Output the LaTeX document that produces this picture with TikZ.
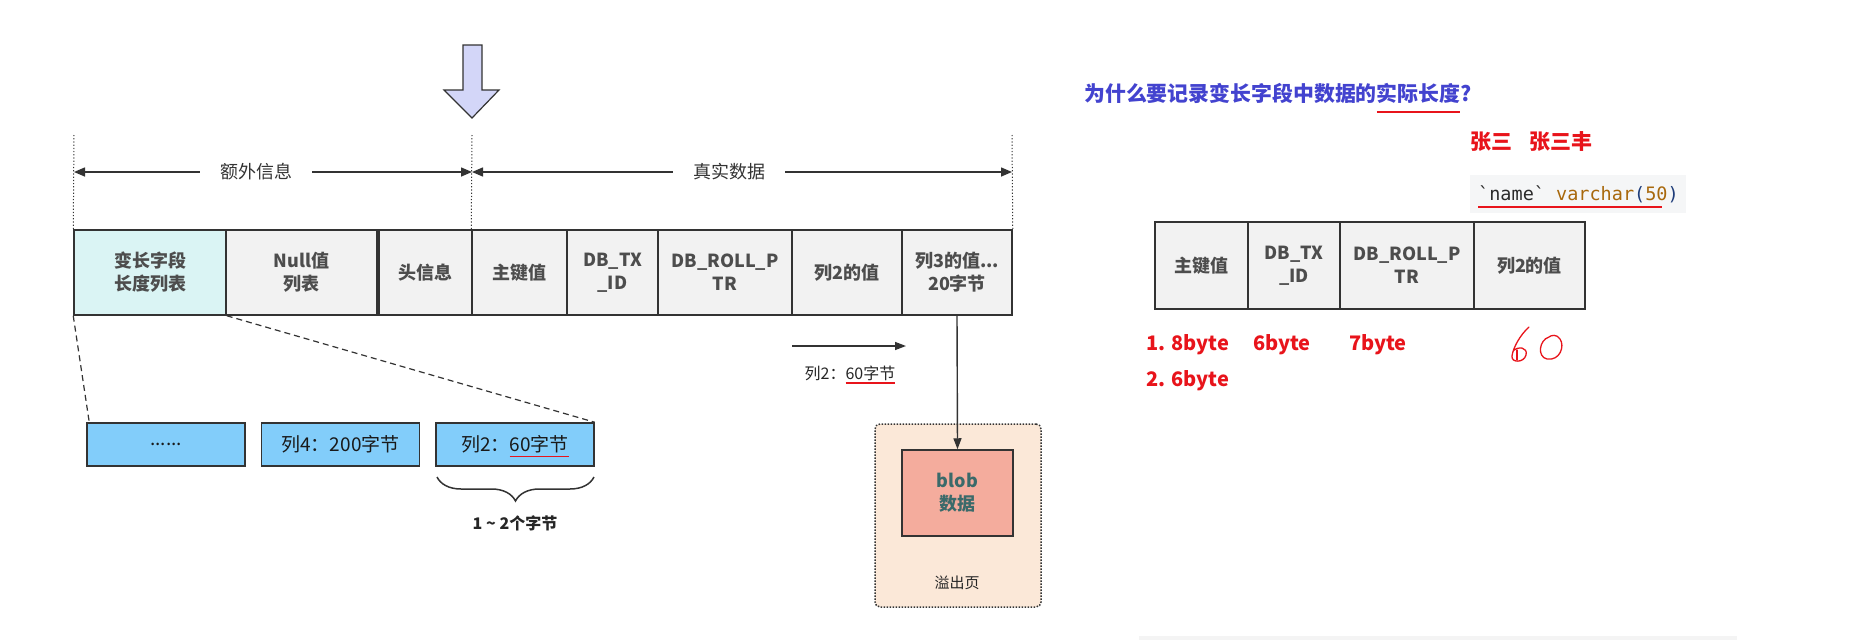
\documentclass[tikz,border=0pt]{standalone}
\usepackage{fontspec}
\setmainfont{Noto Sans CJK SC}
\setmonofont{DejaVu Sans Mono}
\usetikzlibrary{arrows.meta,decorations.pathreplacing}
\definecolor{cellline}{HTML}{333333}
\definecolor{cellfill}{HTML}{F2F2F2}
\definecolor{celltext}{HTML}{4D4D4D}
\definecolor{cyanfill}{HTML}{DAF4F4}
\definecolor{boxblue}{HTML}{82CDFA}
\definecolor{arrowfill}{HTML}{D3D6F8}
\definecolor{ovffill}{HTML}{FBE8D8}
\definecolor{blobfill}{HTML}{F4AC9D}
\definecolor{blobtext}{HTML}{3A6A6A}
\definecolor{ulred}{HTML}{E8141B}
\definecolor{titleblue}{HTML}{4343CF}
\definecolor{codebg}{HTML}{F5F6F7}
\definecolor{codebrown}{HTML}{A8680C}
\definecolor{codeblue}{HTML}{1F3D7A}
\definecolor{codedark}{HTML}{2B2B2B}
\definecolor{barfill}{HTML}{F4F4F4}
\newsavebox\myulbox
\newlength\myulextra
\newcommand\redulx[3]{\sbox\myulbox{#3}\setlength\myulextra{\wd\myulbox}\addtolength\myulextra{#2}\rlap{\smash{\textcolor{ulred}{\rule[-#1]{\myulextra}{1.8pt}}}}\usebox\myulbox}
\newcommand\redulat[2]{\redulx{#1}{0pt}{#2}}
\newcommand\cellfont{\fontsize{18}{23}\selectfont\bfseries}
\begin{document}
\begin{tikzpicture}[x=1pt,y=-1pt,
  cell/.style={draw=cellline,line width=1.5pt,fill=cellfill,text=celltext,font=\cellfont,align=center,inner sep=0pt,minimum height=85pt},
  rcell/.style={cell,line width=2.2pt,minimum height=87pt},
  lbox/.style={draw=cellline,line width=1.5pt,fill=boxblue,text=black!90,font=\fontsize{19}{22}\selectfont,inner sep=0pt,minimum width=158pt,minimum height=43pt},
  dimline/.style={draw=cellline,line width=1.5pt,{Triangle[length=11pt,width=9pt]}-{Triangle[length=11pt,width=9pt]}},
  dimlabel/.style={fill=white,text=black!80,font=\fontsize{18}{22}\selectfont,inner xsep=20pt,inner ysep=2pt},
  guide/.style={draw=cellline,line width=1pt,dash pattern=on 1.2pt off 2pt},
  zoomline/.style={draw=cellline,line width=1.2pt,dash pattern=on 6pt off 4pt},
  conn/.style={draw=cellline,line width=1.4pt,-{Triangle[length=11pt,width=8pt]}},
  redtxt/.style={text=ulred,font=\fontsize{20}{24}\selectfont\bfseries,anchor=west,inner sep=0pt},
  hand/.style={draw=ulred,line width=1.3pt,line cap=round,line join=round}]
\useasboundingbox (0,0) rectangle (1864,640);
\fill[white] (0,0) rectangle (1864,640);
\fill[barfill] (1139,636) rectangle (1737,640);

% big down arrow
\draw[cellline,line width=1.2pt,fill=arrowfill] (463,45) -- (482,45) -- (482,90) -- (499,90) -- (472,118) -- (444,90) -- (463,90) -- cycle;

% main row
\node[cell,fill=cyanfill,minimum width=152pt] (c1) at (150,272.5) {变长字段\\长度列表};
\node[cell,minimum width=151pt] (c2) at (301.5,272.5) {Null值\\列表};
\node[cell,minimum width=93pt] (c3) at (425.5,272.5) {头信息};
\node[cell,minimum width=95pt] (c4) at (519.5,272.5) {主键值};
\node[cell,minimum width=91pt] (c5) at (612.5,272.5) {DB\_TX\\\_ID};
\node[cell,minimum width=134pt] (c6) at (725,272.5) {DB\_ROLL\_P\\TR};
\node[cell,minimum width=110pt] (c7) at (847,272.5) {列2的值};
\node[cell,minimum width=110pt] (c8) at (957,272.5) {列3的值...\\20字节};

% guides and dimension arrows
\coordinate (g1) at (74,135);
\coordinate (g2) at (472,135);
\coordinate (g3) at (1012,135);
\draw[guide] (g1) -- (c1.north west);
\draw[guide] (g2) -- (c4.north west);
\draw[guide] (g3) -- (c8.north east);
\coordinate (d1) at (74,172);
\coordinate (d2) at (472,172);
\coordinate (d3) at (1012,172);
\draw[dimline] (d1) -- (d2);
\draw[dimline] (d2) -- (d3);
\node[dimlabel] (lab1) at (256,172) {额外信息};
\node[dimlabel] (lab2) at (729,172) {真实数据};

% lower boxes
\node[lbox] (b1) at (166,444.5) {......};
\node[lbox] (b2) at (340.5,444.5) {列4：200字节};
\node[lbox] (b3) at (515,444.5) {列2：\redulat{0.3em}{60字节}};
\draw[zoomline] (c1.south west) -- ([xshift=3pt]b1.north west);
\draw[zoomline] (c1.south east) -- (b3.north east);
\coordinate (brR) at (594,477);
\coordinate (brL) at (437,477);
\draw[cellline,line width=1.5pt,decorate,decoration={brace,amplitude=24pt,aspect=0.5}] (brR) -- (brL);
\node[text=black!85,font=\fontsize{16}{19}\selectfont\bfseries] (brlab) at (515,523) {1 \textasciitilde{} 2个字节};

% overflow
\coordinate (a1) at (792,346);
\coordinate (a2) at (906,346);
\draw[conn] (a1) -- (a2);
\node[text=black!85,font=\fontsize{16}{19}\selectfont] (alab) at (850,373) {列2：\redulat{0.3em}{60字节}};
\node[draw=cellline,line width=1.5pt,dash pattern=on 1.5pt off 1.5pt,rounded corners=5pt,fill=ovffill,minimum width=166pt,minimum height=183pt,inner sep=0pt] (ovf) at (958,515.5) {};
\node[text=black!85,font=\fontsize{15}{18}\selectfont] (ovflab) at (957,583) {溢出页};
\node[draw=cellline,line width=1.5pt,fill=blobfill,text=blobtext,font=\cellfont,align=center,inner sep=0pt,minimum width=111pt,minimum height=86pt] (blob) at (957.5,493) {blob\\数据};
\draw[conn] (c8.south) -- (blob.north);

% right side
\node[text=titleblue,font=\fontsize{20.9}{24}\selectfont\bfseries,anchor=west,inner sep=0pt] (title) at (1084,93) {为什么要记录变长字段中数据的\redulat{0.58em}{实际长度}?};
\node[text=ulred,font=\fontsize{21}{24}\selectfont\bfseries,anchor=west,inner sep=0pt] (names) at (1470,142) {张三\hspace{17pt}张三丰};
\node[fill=codebg,minimum width=216pt,minimum height=38pt,inner sep=0pt] (codebg) at (1578,194) {};
\node[anchor=west,inner sep=0pt,font=\fontsize{18.5}{22}\ttfamily] (code) at (1478,194) {\redulx{0.4em}{17pt}{\textcolor{codedark}{\textasciigrave name\textasciigrave}\ \textcolor{codebrown}{varchar}\textcolor{codeblue}{(}}\textcolor{codebrown}{50}\textcolor{codeblue}{)}};

\node[rcell,minimum width=93pt] (r1) at (1201.5,265.5) {主键值};
\node[rcell,minimum width=92pt] (r2) at (1294,265.5) {DB\_TX\\\_ID};
\node[rcell,minimum width=134pt] (r3) at (1407,265.5) {DB\_ROLL\_P\\TR};
\node[rcell,minimum width=111pt] (r4) at (1529.5,265.5) {列2的值};

\node[redtxt] (t1) at (1146,345) {1. 8byte};
\node[redtxt] (t2) at (1253,345) {6byte};
\node[redtxt] (t3) at (1349,345) {7byte};
\node[redtxt] (t4) at (1146,381) {2. 6byte};

% handwritten 60
\draw[hand] (1529,327) .. controls (1520,335) and (1513,348) .. (1512,356) .. controls (1511,363) and (1524,363) .. (1526,355) .. controls (1528,347) and (1518,346) .. (1513,351);
\draw[hand] (1517,350) -- (1517,360);
\draw[hand] (1549,337) .. controls (1539,340) and (1537,357) .. (1547,359) .. controls (1560,361) and (1565,346) .. (1560,339) .. controls (1557,334) and (1551,335) .. (1549,337);
\end{tikzpicture}
\end{document}
